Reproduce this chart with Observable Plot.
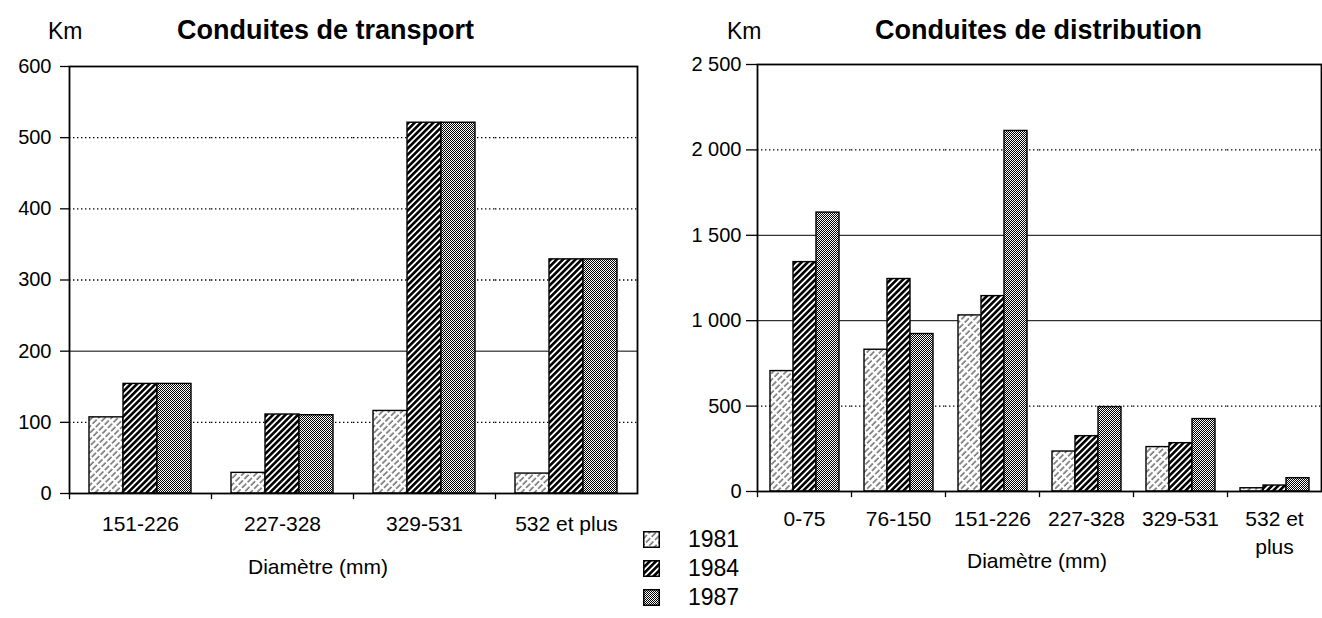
<!DOCTYPE html>
<html><head><meta charset="utf-8">
<script src="https://cdn.jsdelivr.net/npm/d3@7"></script>
<script src="https://cdn.jsdelivr.net/npm/@observablehq/plot@0.6"></script>
<style>
body{margin:0;background:#fff;}
#root{position:relative;width:1322px;height:618px;font-family:"Liberation Sans",Arial,sans-serif;color:#000;overflow:hidden;background:#fff}
.t{position:absolute;white-space:nowrap;line-height:1}
.chart{position:absolute;top:40px}
</style></head><body><div id="root"></div>
<script>
// ---- data ----
const years = ["1981", "1984", "1987"];
const transportCats = ["151-226", "227-328", "329-531", "532 et plus"];
const transport1981 = [107, 29, 116, 28];
const transport1984 = [154, 111, 521, 329];
const transport1987 = [154, 110, 521, 329];
const transportTicks = [0, 100, 200, 300, 400, 500, 600];
const distributionCats = ["0-75", "76-150", "151-226", "227-328", "329-531", "532 et plus"];
const distribution1981 = [705, 830, 1031, 234, 260, 19];
const distribution1984 = [1343, 1244, 1144, 324, 283, 35];
const distribution1987 = [1633, 922, 2111, 494, 424, 78];
const distributionTicks = [0, 500, 1000, 1500, 2000, 2500];
const titleTransport = "Conduites de transport";
const titleDistribution = "Conduites de distribution";
const unitLabel = "Km";
const xTitle = "Diamètre (mm)";

// ---- helpers ----
const root = document.getElementById("root");
root.insertAdjacentHTML("beforeend", `<svg width="0" height="0" style="position:absolute;left:0;top:0">
<defs>
<pattern id="pat1981" patternUnits="userSpaceOnUse" width="4.6" height="8" patternTransform="rotate(45)">
<rect width="4.6" height="8" fill="#fff"/>
<line x1="1" y1="0" x2="1" y2="8" stroke="#000" stroke-width="0.9" stroke-dasharray="6 2"/>
</pattern>
<pattern id="pat1984" patternUnits="userSpaceOnUse" width="4.4" height="6" patternTransform="rotate(45)">
<rect width="4.4" height="6" fill="#fff"/>
<rect x="0" y="0" width="2.6" height="6" fill="#000"/>
</pattern>
<pattern id="pat1987" patternUnits="userSpaceOnUse" width="2" height="2">
<rect width="2" height="2" fill="#fff"/>
<rect width="1" height="1" fill="#000"/>
<rect x="1" y="1" width="1" height="1" fill="#000"/>
</pattern>
</defs></svg>`);

const frFmt = d3.formatLocale({decimal: ",", thousands: " ", grouping: [3], currency: ["", ""]}).format(",d");

function makeRows(cats, v81, v84, v87) {
  const series = [v81, v84, v87];
  return cats.flatMap((c, i) => years.map((y, j) => ({cat: c, year: y, value: series[j][i]})));
}

const H = 427;
function chart({cats, rows, ticks, dotted, solid, width, marginLeft, marginRight, marginTop, xPadOuter, labelPad, tickSize, tickPadding, wrap}) {
  return Plot.plot({
    width, height: marginTop + H + 60,
    marginLeft, marginRight, marginTop, marginBottom: 60,
    style: {fontFamily: "'Liberation Sans', Arial, sans-serif", fontSize: "20px", color: "#000", background: "transparent", overflow: "visible"},
    fx: {domain: cats, padding: 0, label: null},
    x: {domain: years, paddingInner: 0, paddingOuter: xPadOuter, axis: null},
    y: {domain: [ticks[0], ticks[ticks.length - 1]]},
    color: {domain: years, range: years.map(y => `url(#pat${y})`)},
    marks: [
      Plot.ruleY(dotted, {stroke: "#000", strokeWidth: 1.4, strokeDasharray: "1.4 2.6"}),
      Plot.ruleY(solid, {stroke: "#000", strokeWidth: 1}),
      Plot.barY(rows, {fx: "cat", x: "year", y: "value", fill: "year", stroke: "#000", strokeWidth: 1.4}),
      Plot.frame({anchor: "left", insetTop: H, insetBottom: -5, stroke: "#000", strokeWidth: 1.3}),
      Plot.frame({facet: "super", stroke: "#000", strokeWidth: 1.8}),
      Plot.axisY({ticks, tickSize, tickPadding, tickFormat: frFmt, label: null, strokeWidth: 1.3, fontSize: 20}),
      Plot.axisFx({anchor: "bottom", tickSize: 0, tickPadding: labelPad, label: null, tickFormat: wrap, lineHeight: 1.33, fontSize: 21})
    ]
  });
}

const left = chart({
  cats: transportCats,
  rows: makeRows(transportCats, transport1981, transport1984, transport1987),
  ticks: transportTicks, dotted: [100, 300, 400, 500], solid: [200],
  width: 660, marginLeft: 69, marginRight: 23, marginTop: 26,
  xPadOuter: 0.588, labelPad: 18, tickSize: 9, tickPadding: 9, wrap: d => d
});
left.classList.add("chart");
left.style.left = "0px";
root.appendChild(left);

const right = chart({
  cats: distributionCats,
  rows: makeRows(distributionCats, distribution1981, distribution1984, distribution1987),
  ticks: distributionTicks, dotted: [500, 2000], solid: [1000, 1500],
  width: 664, marginLeft: 96, marginRight: 2, marginTop: 24,
  xPadOuter: 0.46, labelPad: 15, tickSize: 11, tickPadding: 5, wrap: d => d.replace(" et ", " et\n")
});
right.classList.add("chart");
right.style.left = "660px";
root.appendChild(right);

// ---- titles, units, axis titles ----
function addText(txt, x, top, size, opts = {}) {
  const d = document.createElement("div");
  d.className = "t";
  d.textContent = txt;
  d.style.left = x + "px";
  d.style.top = top + "px";
  d.style.fontSize = size + "px";
  if (opts.bold) d.style.fontWeight = "bold";
  if (opts.center) d.style.transform = "translateX(-50%)";
  root.appendChild(d);
}
addText(unitLabel, 48, 20, 23);
addText(titleTransport, 177, 17, 27, {bold: true});
addText(unitLabel, 727, 20, 23);
addText(titleDistribution, 875, 17, 27, {bold: true});
addText(xTitle, 318, 556, 21, {center: true});
addText(xTitle, 1037, 550, 21, {center: true});

// ---- legend ----
const legendTops = [531, 560, 589];
years.forEach((y, i) => {
  root.insertAdjacentHTML("beforeend",
    `<svg width="17" height="17" style="position:absolute;left:643px;top:${legendTops[i]}px"><rect x="0.75" y="0.75" width="15.5" height="15.5" fill="url(#pat${y})" stroke="#000" stroke-width="1.5"/></svg>`);
  addText(y, 688, legendTops[i] - 3.5, 23);
});
</script></body></html>
